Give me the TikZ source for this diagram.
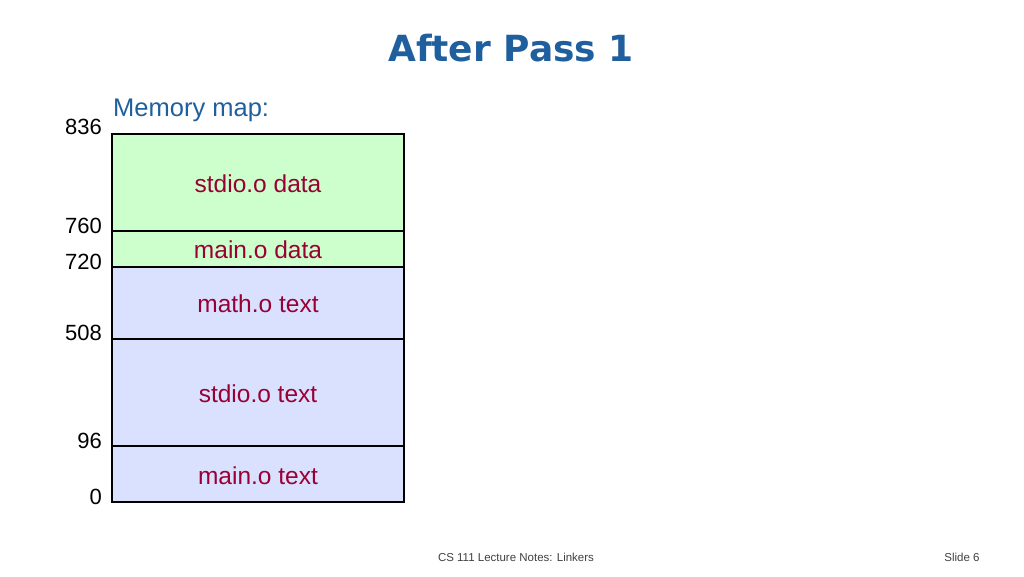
\documentclass[tikz,border=0pt]{standalone}
\usepackage{fontspec}
\setmainfont{Liberation Sans}
\newfontfamily\titlefont{DejaVu Sans}
\definecolor{tblue}{HTML}{1F5F9E}
\definecolor{gfill}{HTML}{CCFFCC}
\definecolor{bfill}{HTML}{D9E1FF}
\definecolor{dred}{HTML}{990033}
\begin{document}
\begin{tikzpicture}[x=1pt,y=-1pt,
  seg/.style={draw=black,line width=1.2pt},
  lbl/.style={text=dred,font=\fontsize{24.5}{28}\selectfont,anchor=center},
  addr/.style={anchor=east,font=\fontsize{22}{24}\selectfont,inner sep=0pt}]
\useasboundingbox (0,0) rectangle (1024,576);
\node (title) at (511,48) {\textcolor{tblue}{\titlefont\bfseries\fontsize{36}{42}\selectfont After Pass 1}};
\node[anchor=west,inner sep=0pt,text=tblue,font=\fontsize{25.5}{28}\selectfont] (mm) at (113,110) {Memory map:};
\fill[gfill] (112,134) rectangle (404,267);
\fill[bfill] (112,267) rectangle (404,502);
\draw[seg] (112,134) rectangle (404,502);
\foreach \y in {231,267,339,446} \draw[seg] (112,\y) -- (404,\y);
\node[lbl] (s1) at (258,184) {stdio.o data};
\node[lbl] (s2) at (258,250) {main.o data};
\node[lbl] (s3) at (258,304) {math.o text};
\node[lbl] (s4) at (258,394) {stdio.o text};
\node[lbl] (s5) at (258,476) {main.o text};
\node[addr] (a1) at (102,127) {836};
\node[addr] (a2) at (102,226) {760};
\node[addr] (a3) at (102,262) {720};
\node[addr] (a4) at (102,333) {508};
\node[addr] (a5) at (102,441) {96};
\node[addr] (a6) at (102,497) {0};
\node[font=\fontsize{11.5}{13}\selectfont,text=black!75] (f1) at (516,557) {CS 111 Lecture Notes: Linkers};
\node[font=\fontsize{11.5}{13}\selectfont,text=black!75] (f2) at (962,557) {Slide 6};
\end{tikzpicture}
\end{document}
